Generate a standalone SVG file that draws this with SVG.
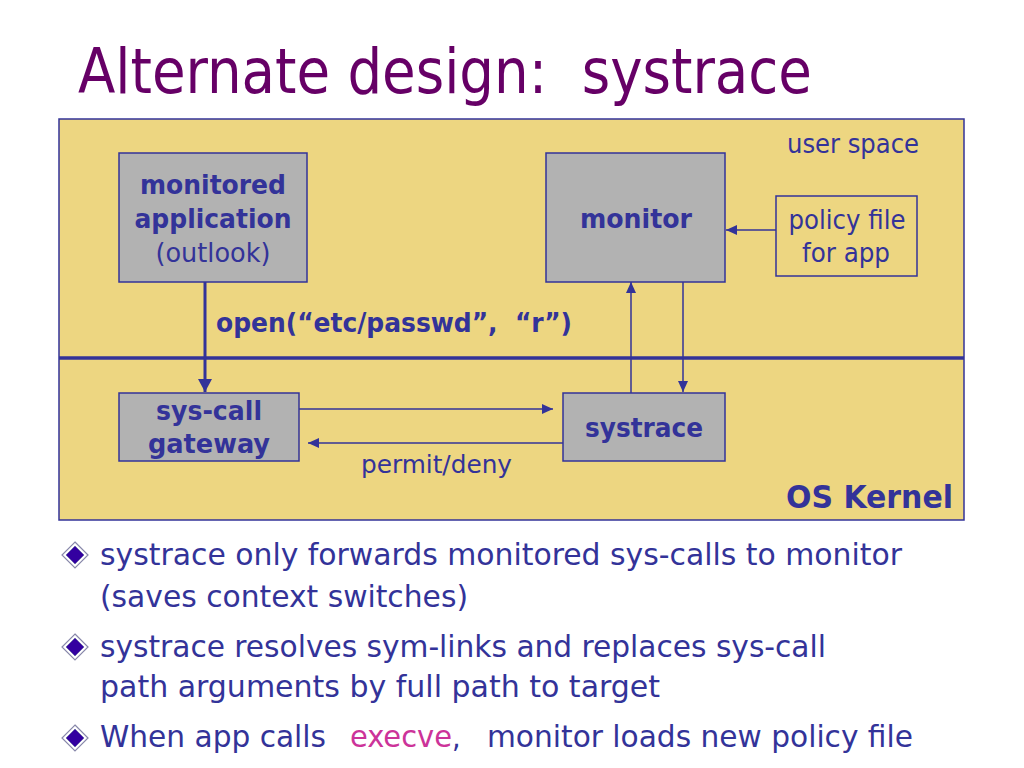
<svg xmlns="http://www.w3.org/2000/svg" width="1024" height="768" viewBox="0 0 1024 768">
<style>
.t{font-family:"DejaVu Sans Condensed","DejaVu Sans",Verdana,sans-serif;fill:#333399;white-space:pre}
.b{font-weight:bold}
.box{fill:#B2B2B2;stroke:#333399;stroke-width:1.5}
.ln{fill:none;stroke:#333399;stroke-width:1.5}
</style>
<defs>
<marker id="ah" markerUnits="userSpaceOnUse" markerWidth="12" markerHeight="12" refX="11" refY="6" orient="auto">
<path d="M0,1 L11,6 L0,11 Z" fill="#333399"/>
</marker>
<marker id="ahb" markerUnits="userSpaceOnUse" markerWidth="16" markerHeight="16" refX="13" refY="8" orient="auto">
<path d="M0,1 L13,8 L0,15 Z" fill="#333399"/>
</marker>
<g id="dia">
<path d="M0,-13 L13,0 L0,13 L-13,0 Z" fill="#FFFFFF" stroke="#8888AA" stroke-width="1.2"/>
<path d="M0,-9 L9,0 L0,9 L-9,0 Z" fill="#3300A0" stroke="#6666AA" stroke-width="0.8"/>
</g>
</defs>
<rect width="1024" height="768" fill="#FFFFFF"/>
<text x="78" y="93" class="t" style="fill:#660066" font-size="62" textLength="734" lengthAdjust="spacingAndGlyphs">Alternate design:  systrace</text>

<g id="frame">
<rect x="59" y="119" width="905" height="401" fill="#EDD681" stroke="#333399" stroke-width="1.5"/>
<line x1="59" y1="358" x2="964" y2="358" stroke="#333399" stroke-width="3.5"/>
<text x="787" y="153" class="t" font-size="26" textLength="132" lengthAdjust="spacingAndGlyphs">user space</text>
<text x="953" y="508" class="t b" font-size="32" text-anchor="end" textLength="167" lengthAdjust="spacingAndGlyphs">OS Kernel</text>
</g>

<g id="connectors">
<line x1="205" y1="282" x2="205" y2="392" stroke="#333399" stroke-width="3" marker-end="url(#ahb)"/>
<line x1="299" y1="409" x2="553" y2="409" class="ln" marker-end="url(#ah)"/>
<line x1="563" y1="443" x2="308" y2="443" class="ln" marker-end="url(#ah)"/>
<line x1="631" y1="393" x2="631" y2="282" class="ln" marker-end="url(#ah)"/>
<line x1="683" y1="282" x2="683" y2="392" class="ln" marker-end="url(#ah)"/>
<line x1="776" y1="230" x2="726" y2="230" class="ln" marker-end="url(#ah)"/>
<text x="216" y="332" class="t b" font-size="26" textLength="356" lengthAdjust="spacingAndGlyphs">open(“etc/passwd”,  “r”)</text>
<text x="361" y="473" class="t" font-size="24" textLength="151" lengthAdjust="spacingAndGlyphs">permit/deny</text>
</g>

<g id="app">
<rect x="119" y="153" width="188" height="129" class="box"/>
<text x="213" y="194" class="t b" font-size="27" text-anchor="middle" textLength="146" lengthAdjust="spacingAndGlyphs">monitored</text>
<text x="213" y="228" class="t b" font-size="27" text-anchor="middle" textLength="157" lengthAdjust="spacingAndGlyphs">application</text>
<text x="213" y="262" class="t" font-size="26" text-anchor="middle" textLength="115" lengthAdjust="spacingAndGlyphs">(outlook)</text>
</g>

<g id="monitor">
<rect x="546" y="153" width="179" height="129" class="box"/>
<text x="636" y="228" class="t b" font-size="27" text-anchor="middle" textLength="112" lengthAdjust="spacingAndGlyphs">monitor</text>
</g>

<g id="policy">
<rect x="776" y="196" width="141" height="80" fill="#EDD681" stroke="#333399" stroke-width="1.5"/>
<text x="847" y="229" class="t" font-size="26" text-anchor="middle" textLength="117" lengthAdjust="spacingAndGlyphs">policy file</text>
<text x="846" y="262" class="t" font-size="26" text-anchor="middle" textLength="88" lengthAdjust="spacingAndGlyphs">for app</text>
</g>

<g id="gateway">
<rect x="119" y="393" width="180" height="68" class="box"/>
<text x="209" y="420" class="t b" font-size="27" text-anchor="middle" textLength="106" lengthAdjust="spacingAndGlyphs">sys-call</text>
<text x="209" y="453" class="t b" font-size="27" text-anchor="middle" textLength="122" lengthAdjust="spacingAndGlyphs">gateway</text>
</g>

<g id="systrace">
<rect x="563" y="393" width="162" height="68" class="box"/>
<text x="644" y="437" class="t b" font-size="27" text-anchor="middle" textLength="118" lengthAdjust="spacingAndGlyphs">systrace</text>
</g>

<g id="bullets">
<use href="#dia" x="75" y="555"/>
<use href="#dia" x="75" y="647"/>
<use href="#dia" x="75" y="738"/>
<text x="100" y="565" class="t" font-size="30" textLength="802" lengthAdjust="spacingAndGlyphs">systrace only forwards monitored sys-calls to monitor</text>
<text x="100" y="607" class="t" font-size="30" textLength="368" lengthAdjust="spacingAndGlyphs">(saves context switches)</text>
<text x="100" y="657" class="t" font-size="30" textLength="726" lengthAdjust="spacingAndGlyphs">systrace resolves sym-links and replaces sys-call</text>
<text x="100" y="697" class="t" font-size="30" textLength="560" lengthAdjust="spacingAndGlyphs">path arguments by full path to target</text>
<text x="100" y="747" class="t" font-size="30" textLength="226" lengthAdjust="spacingAndGlyphs">When app calls</text>
<text x="350" y="747" class="t" font-size="30" style="fill:#CC3399" textLength="102" lengthAdjust="spacingAndGlyphs">execve</text>
<text x="452" y="747" class="t" font-size="30">,</text>
<text x="487" y="747" class="t" font-size="30" textLength="426" lengthAdjust="spacingAndGlyphs">monitor loads new policy file</text>
</g>
</svg>
